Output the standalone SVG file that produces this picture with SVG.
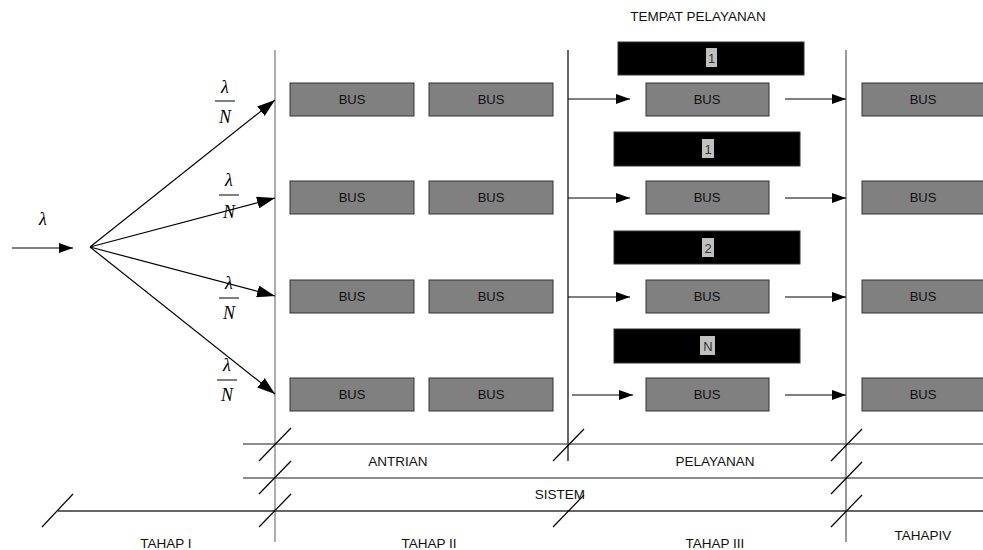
<svg xmlns="http://www.w3.org/2000/svg" width="983" height="550" viewBox="0 0 983 550">
<style>
.bus{fill:#808080;stroke:#333;stroke-width:1}
.blk{fill:#000;stroke:#333;stroke-width:1}
.hl{fill:#c0c0c0}
.t{font-family:"Liberation Sans",Arial,sans-serif;font-size:13.5px;fill:#111;text-anchor:middle}
.tb{font-family:"Liberation Sans",Arial,sans-serif;font-size:13px;fill:#111;text-anchor:middle}
.tn{font-family:"Liberation Sans",Arial,sans-serif;font-size:13px;fill:#333;text-anchor:middle}
.m{font-family:"Liberation Serif","Times New Roman",serif;font-style:italic;font-size:18px;fill:#000;text-anchor:middle}
.ln{stroke:#000;stroke-width:1.2;fill:none}
.gl{stroke:#666;stroke-width:1.5;fill:none}
.sl{stroke:#000;stroke-width:1.2;fill:none}
</style>
<defs>
<marker id="a" markerUnits="userSpaceOnUse" markerWidth="14" markerHeight="10" refX="14" refY="5" orient="auto"><path d="M0,0 L14,5 L0,10 z" fill="#000"/></marker>
<marker id="b" markerUnits="userSpaceOnUse" markerWidth="18" markerHeight="12" refX="18" refY="6" orient="auto"><path d="M0,0 L18,6 L0,12 z" fill="#000"/></marker>
</defs>

<g id="frame">
<line x1="275" y1="50" x2="275" y2="542" stroke="#777" stroke-width="1.2"/>
<line x1="568" y1="50" x2="568" y2="461" stroke="#000" stroke-width="1.2"/>
<line x1="846" y1="50" x2="846" y2="542" stroke="#555" stroke-width="1.2"/>
<line class="gl" x1="243" y1="444" x2="983" y2="444"/>
<line class="gl" x1="243" y1="478" x2="983" y2="478"/>
<line x1="58" y1="511" x2="983" y2="511" stroke="#333" stroke-width="1.3"/>
<line class="sl" x1="259" y1="461" x2="291" y2="428"/>
<line class="sl" x1="259" y1="494" x2="291" y2="461"/>
<line class="sl" x1="259" y1="527" x2="291" y2="494"/>
<line class="sl" x1="553" y1="461" x2="584" y2="429"/>
<line class="sl" x1="553" y1="527" x2="584" y2="495"/>
<line class="sl" x1="831" y1="461" x2="862" y2="429"/>
<line class="sl" x1="831" y1="494" x2="862" y2="462"/>
<line class="sl" x1="831" y1="527" x2="862" y2="495"/>
<line class="sl" x1="42" y1="527" x2="73" y2="494"/>
</g>

<g id="labels">
<text class="t" x="698" y="21">TEMPAT PELAYANAN</text>
<text class="t" x="398" y="466">ANTRIAN</text>
<text class="t" x="715" y="466">PELAYANAN</text>
<text class="t" x="560" y="499">SISTEM</text>
<text class="t" x="166" y="548">TAHAP I</text>
<text class="t" x="429" y="548">TAHAP II</text>
<text class="t" x="715" y="548">TAHAP III</text>
<text class="t" x="923" y="540">TAHAPIV</text>
<text class="m" x="43" y="225">λ</text>
<text class="m" x="225" y="93">λ</text>
<line x1="215" y1="101" x2="235" y2="101" stroke="#000" stroke-width="1"/>
<text class="m" x="225" y="123">N</text>
<text class="m" x="229" y="186">λ</text>
<line x1="219" y1="195" x2="239" y2="195" stroke="#000" stroke-width="1"/>
<text class="m" x="229" y="218">N</text>
<text class="m" x="229" y="289">λ</text>
<line x1="219" y1="298" x2="239" y2="298" stroke="#000" stroke-width="1"/>
<text class="m" x="229" y="319">N</text>
<text class="m" x="227" y="371">λ</text>
<line x1="217" y1="380" x2="237" y2="380" stroke="#000" stroke-width="1"/>
<text class="m" x="227" y="401">N</text>
</g>

<g id="connectors">
<line class="ln" x1="12" y1="248" x2="73" y2="248" marker-end="url(#a)"/>
<line class="ln" x1="90" y1="247" x2="275" y2="100" marker-end="url(#b)"/>
<line class="ln" x1="90" y1="247" x2="275" y2="198" marker-end="url(#b)"/>
<line class="ln" x1="90" y1="247" x2="275" y2="296" marker-end="url(#b)"/>
<line class="ln" x1="90" y1="247" x2="275" y2="394" marker-end="url(#b)"/>
<line class="ln" x1="568" y1="99" x2="630" y2="99" marker-end="url(#a)"/>
<line class="ln" x1="568" y1="198" x2="630" y2="198" marker-end="url(#a)"/>
<line class="ln" x1="568" y1="297" x2="630" y2="297" marker-end="url(#a)"/>
<line class="ln" x1="572" y1="395" x2="633" y2="395" marker-end="url(#a)"/>
<line class="ln" x1="785" y1="99" x2="846" y2="99" marker-end="url(#a)"/>
<line class="ln" x1="785" y1="198" x2="846" y2="198" marker-end="url(#a)"/>
<line class="ln" x1="785" y1="297" x2="846" y2="297" marker-end="url(#a)"/>
<line class="ln" x1="785" y1="395" x2="846" y2="395" marker-end="url(#a)"/>
</g>

<g id="queue-row1"><rect class="bus" x="290" y="83" width="124" height="33"/><text class="tb" x="352" y="104">BUS</text><rect class="bus" x="429" y="83" width="124" height="33"/><text class="tb" x="491" y="104">BUS</text></g>
<g id="queue-row2"><rect class="bus" x="290" y="181" width="124" height="33"/><text class="tb" x="352" y="202">BUS</text><rect class="bus" x="429" y="181" width="124" height="33"/><text class="tb" x="491" y="202">BUS</text></g>
<g id="queue-row3"><rect class="bus" x="290" y="280" width="124" height="33"/><text class="tb" x="352" y="301">BUS</text><rect class="bus" x="429" y="280" width="124" height="33"/><text class="tb" x="491" y="301">BUS</text></g>
<g id="queue-row4"><rect class="bus" x="290" y="378" width="124" height="33"/><text class="tb" x="352" y="399">BUS</text><rect class="bus" x="429" y="378" width="124" height="33"/><text class="tb" x="491" y="399">BUS</text></g>

<g id="server1"><rect class="blk" x="618" y="42" width="186" height="33"/><rect class="hl" x="706" y="48" width="11" height="19"/><text class="tn" x="711.5" y="63">1</text></g>
<g id="server2"><rect class="blk" x="614" y="132" width="186" height="34"/><rect class="hl" x="702" y="139" width="12" height="19"/><text class="tn" x="708" y="154">1</text></g>
<g id="server3"><rect class="blk" x="614" y="231" width="186" height="33"/><rect class="hl" x="702" y="238" width="12" height="19"/><text class="tn" x="708" y="253">2</text></g>
<g id="server4"><rect class="blk" x="614" y="329" width="186" height="34"/><rect class="hl" x="700" y="336" width="15" height="19"/><text class="tn" x="708" y="351">N</text></g>

<g id="service-row1"><rect class="bus" x="646" y="83" width="123" height="33"/><text class="tb" x="707" y="104">BUS</text></g>
<g id="service-row2"><rect class="bus" x="646" y="181" width="123" height="33"/><text class="tb" x="707" y="202">BUS</text></g>
<g id="service-row3"><rect class="bus" x="646" y="280" width="123" height="33"/><text class="tb" x="707" y="301">BUS</text></g>
<g id="service-row4"><rect class="bus" x="646" y="378" width="123" height="33"/><text class="tb" x="707" y="399">BUS</text></g>

<g id="exit-row1"><rect class="bus" x="862" y="83" width="124" height="33"/><text class="tb" x="923" y="104">BUS</text></g>
<g id="exit-row2"><rect class="bus" x="862" y="181" width="124" height="33"/><text class="tb" x="923" y="202">BUS</text></g>
<g id="exit-row3"><rect class="bus" x="862" y="280" width="124" height="33"/><text class="tb" x="923" y="301">BUS</text></g>
<g id="exit-row4"><rect class="bus" x="862" y="378" width="124" height="33"/><text class="tb" x="923" y="399">BUS</text></g>
</svg>
